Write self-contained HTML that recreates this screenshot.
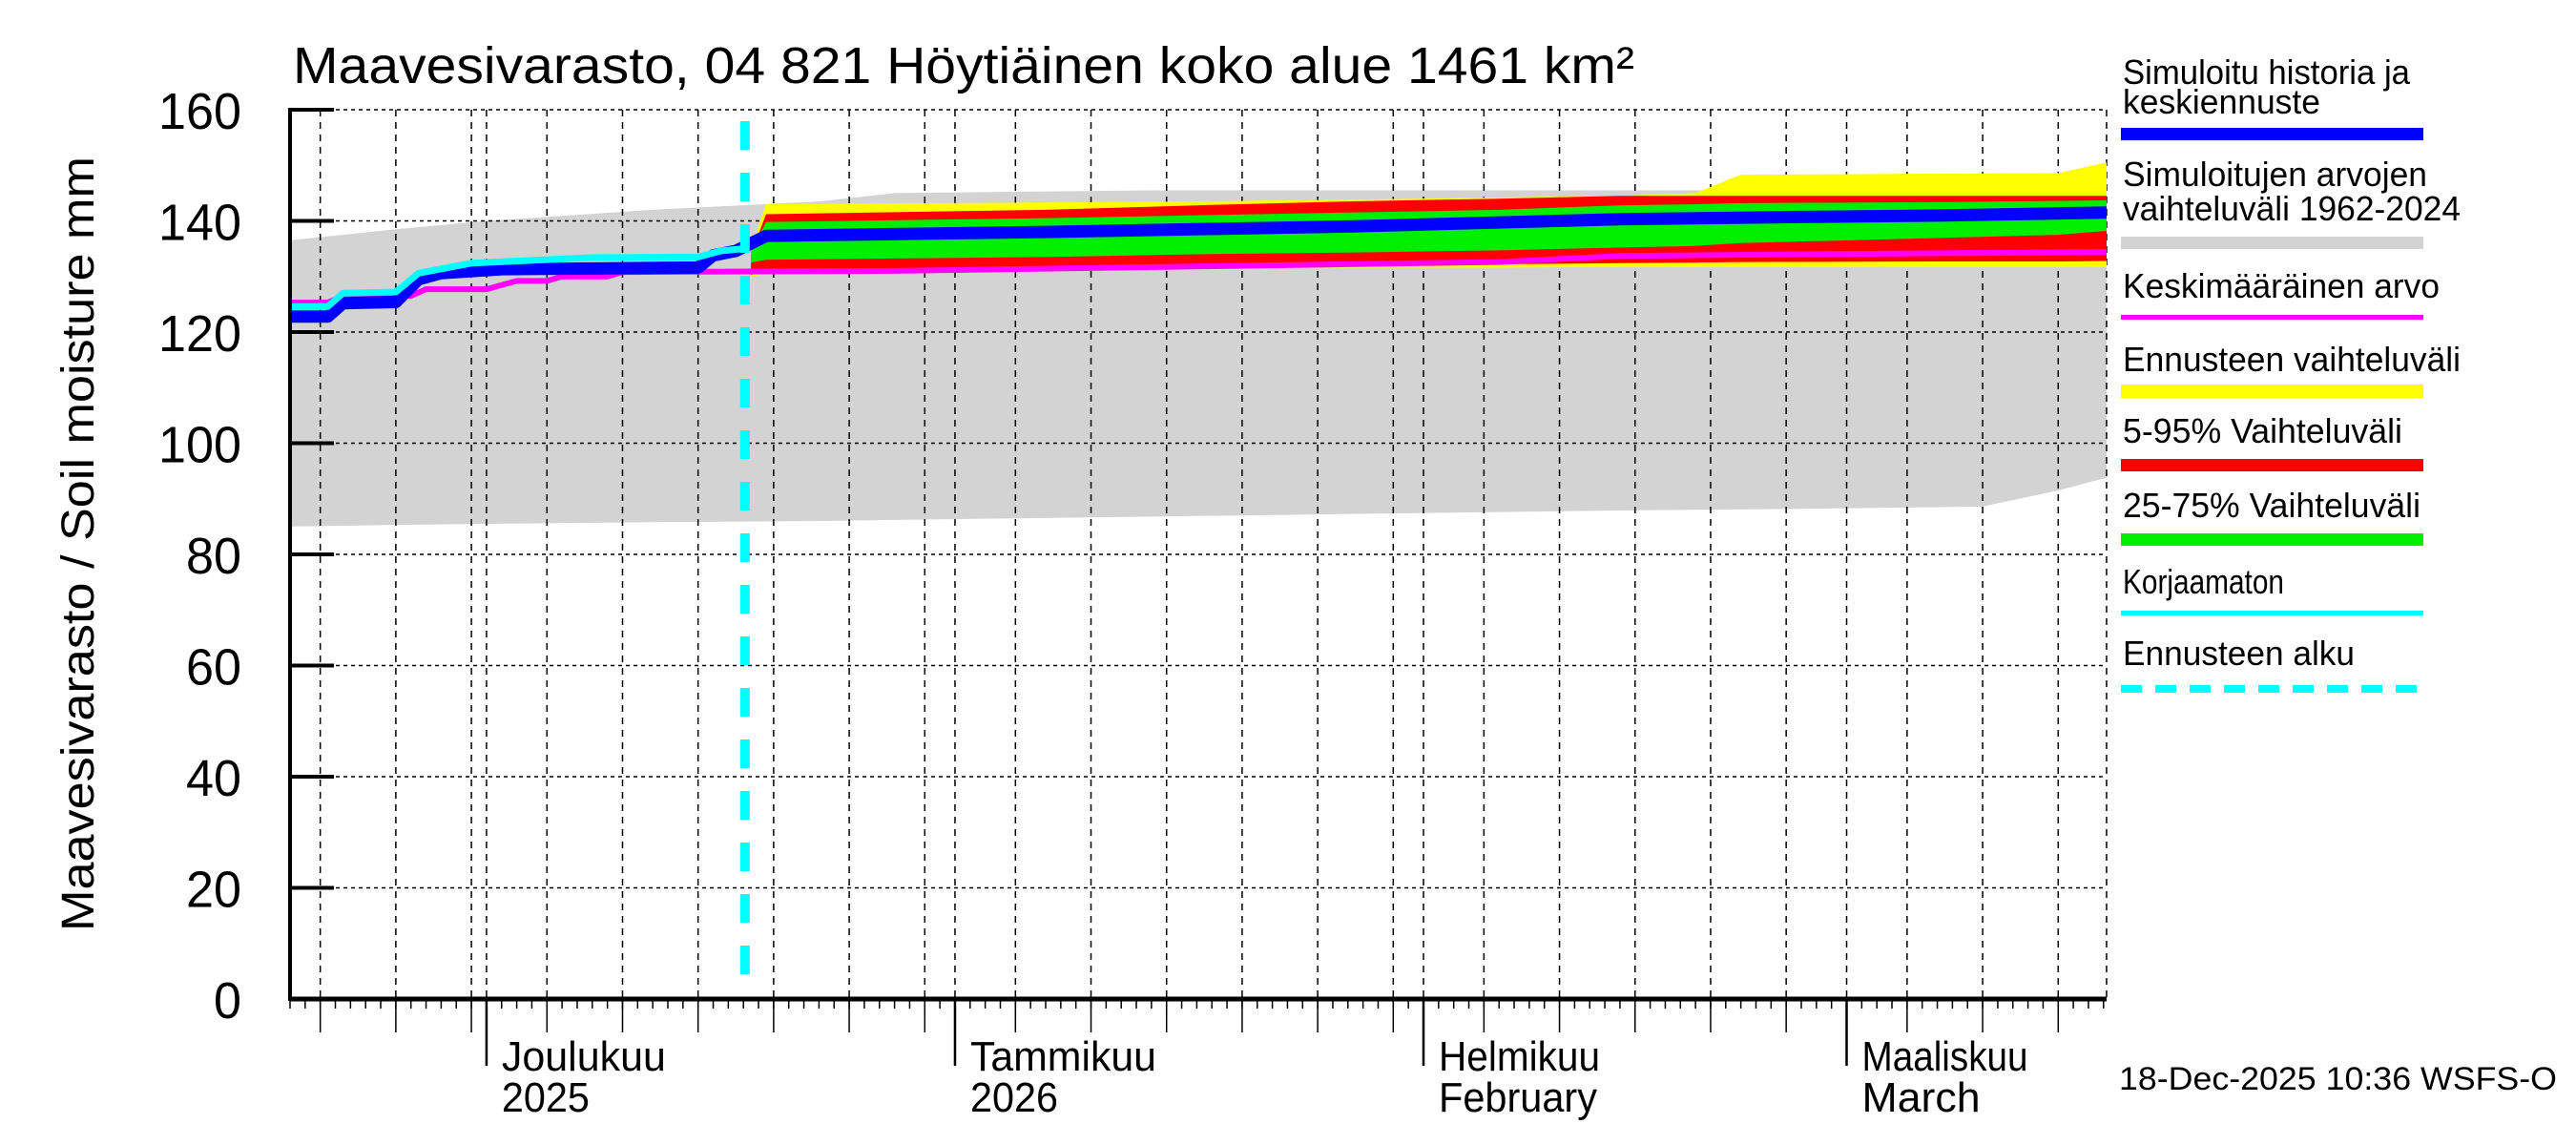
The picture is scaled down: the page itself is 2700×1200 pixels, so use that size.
<!DOCTYPE html>
<html><head><meta charset="utf-8"><style>
html,body{margin:0;padding:0;background:#fff}
svg{display:block}
text{font-family:"Liberation Sans",sans-serif;fill:#000}
</style></head><body>
<svg id="chart" width="2700" height="1200" viewBox="0 0 2700 1200" xmlns="http://www.w3.org/2000/svg">
<rect width="2700" height="1200" fill="#fff"/>
<g id="plot"></g>
<g id="axes"></g>
<text x="307" y="87" font-size="54" textLength="1406" lengthAdjust="spacingAndGlyphs">Maavesivarasto, 04 821 Höytiäinen koko alue 1461 km²</text>
<text transform="translate(98,570) rotate(-90)" text-anchor="middle" font-size="48" textLength="812" lengthAdjust="spacingAndGlyphs">Maavesivarasto / Soil moisture   mm</text>
<g id="legend">
<text x="2225" y="88" font-size="36" textLength="301" lengthAdjust="spacingAndGlyphs">Simuloitu historia ja</text>
<text x="2225" y="119" font-size="36" textLength="207" lengthAdjust="spacingAndGlyphs">keskiennuste</text>
<rect x="2223" y="134" width="317" height="13" fill="#0000ff"/>
<text x="2225" y="195" font-size="36" textLength="319" lengthAdjust="spacingAndGlyphs">Simuloitujen arvojen</text>
<text x="2225" y="231" font-size="36" textLength="354" lengthAdjust="spacingAndGlyphs">vaihteluväli 1962-2024</text>
<rect x="2223" y="248" width="317" height="13" fill="#d3d3d3"/>
<text x="2225" y="312" font-size="36" textLength="332" lengthAdjust="spacingAndGlyphs">Keskimääräinen arvo</text>
<rect x="2223" y="330" width="317" height="5" fill="#ff00ff"/>
<text x="2225" y="389" font-size="36" textLength="354" lengthAdjust="spacingAndGlyphs">Ennusteen vaihteluväli</text>
<rect x="2223" y="403" width="317" height="14" fill="#ffff00"/>
<text x="2225" y="464" font-size="36" textLength="293" lengthAdjust="spacingAndGlyphs">5-95% Vaihteluväli</text>
<rect x="2223" y="481" width="317" height="13" fill="#ff0000"/>
<text x="2225" y="542" font-size="36" textLength="312" lengthAdjust="spacingAndGlyphs">25-75% Vaihteluväli</text>
<rect x="2223" y="559" width="317" height="13" fill="#00ee00"/>
<text x="2225" y="622" font-size="36" textLength="169" lengthAdjust="spacingAndGlyphs">Korjaamaton</text>
<rect x="2223" y="640" width="317" height="5" fill="#00ffff"/>
<text x="2225" y="697" font-size="36" textLength="243" lengthAdjust="spacingAndGlyphs">Ennusteen alku</text>
<line x1="2223" y1="722" x2="2540" y2="722" stroke="#00ffff" stroke-width="8" stroke-dasharray="22,14"/>
</g>
<text x="2680" y="1142" text-anchor="end" font-size="34" textLength="459" lengthAdjust="spacingAndGlyphs">18-Dec-2025 10:36 WSFS-O</text>
</svg>
<script>
// ---- data (day index 0 = 18 Nov 2025) ----
const yTicks = [0, 20, 40, 60, 80, 100, 120, 140, 160];
const monthDays = [13, 44, 75, 103];
const monthLabels1 = ["Joulukuu", "Tammikuu", "Helmikuu", "Maaliskuu"];
const monthLabels2 = ["2025", "2026", "February", "March"];
const gridDays = [2, 7, 12, 17, 22, 27, 32, 37, 42, 48, 53, 58, 63, 68, 73, 79, 84, 89, 94, 99, 107, 112, 117];
const forecastStartDay = 30.1;

const grayDays   = [0, 7, 13, 24, 35, 40, 57, 88, 100, 112, 117, 120.2];
const grayTop    = [136.5, 138.5, 140, 142, 143.5, 145, 145.5, 145.5, 145.5, 145.5, 145.5, 145.5];
const grayBottom = [85, 85.3, 85.5, 85.8, 86, 86.2, 86.8, 87.9, 88.2, 88.6, 91.5, 93.8];

const fcDays      = [30.5, 31.5, 50, 60, 70, 80, 88, 93, 96, 110, 117, 120.2];
const yellowTop   = [135, 143, 143.3, 143.5, 143.8, 144.2, 144.5, 145, 148.3, 148.5, 148.6, 150.5];
const yellowBot   = [130, 130.5, 131, 131.5, 131.6, 131.6, 131.7, 131.7, 131.7, 131.7, 131.7, 131.7];
const redTop      = [134, 141.2, 142, 142.8, 143.5, 144, 144.5, 144.5, 144.5, 144.5, 144.5, 144.5];
const redBot      = [130.3, 130.8, 131.3, 131.8, 132, 132.2, 132.4, 132.5, 132.6, 132.7, 132.7, 132.8];
const greenTop    = [134.5, 139.8, 140.5, 141, 141.5, 142, 142.8, 143, 143.2, 143.4, 143.6, 143.7];
const greenBot    = [132.5, 133, 133.5, 134, 134.3, 134.7, 135.2, 135.5, 136, 137, 137.5, 138.2];

const blueDays = [0, 2.5, 3.5, 7, 8.5, 10, 14, 27, 28, 29.5, 31.5, 50, 70, 88, 100, 110, 120.2];
const blueVals = [122.8, 122.8, 125.2, 125.4, 129.5, 130.6, 131.3, 131.6, 133.8, 134.6, 137.3, 138, 139, 140.3, 140.7, 141, 141.5];
const cyanDays = [0, 2.5, 3.5, 7, 8.5, 12, 20, 27, 28.5, 30];
const cyanVals = [124.6, 124.6, 127, 127.2, 130.6, 132.4, 133.4, 133.5, 134.6, 135];
const magDays  = [0, 2.5, 3.5, 8, 9, 13, 15, 17, 18, 21, 22, 40, 60, 80, 88, 100, 120.2];
const magVals  = [125.3, 125.3, 126.5, 126.5, 127.7, 127.7, 129.2, 129.2, 130, 130, 130.8, 131, 131.8, 132.6, 133.7, 134, 134.4];

// ---- scales ----
const X0 = 304, PXD = 15.84, Y0 = 1047, PXU = 5.825, XR = 2208;
const xs = d => X0 + d * PXD;
const ys = v => Y0 - v * PXU;
const NS = "http://www.w3.org/2000/svg";
const plot = document.getElementById("plot");
const axes = document.getElementById("axes");
function mk(tag, attrs, parent) {
  const e = document.createElementNS(NS, tag);
  for (const k in attrs) e.setAttribute(k, attrs[k]);
  parent.appendChild(e);
  return e;
}
function band(days, top, bot, color, name) {
  const pts = [];
  for (let i = 0; i < days.length; i++) pts.push(xs(days[i]) + "," + ys(top[i]));
  for (let i = days.length - 1; i >= 0; i--) pts.push(xs(days[i]) + "," + ys(bot[i]));
  const p = mk("polygon", {points: pts.join(" "), fill: color}, plot);
  
  
}
function line(days, vals, color, w, name) {
  const pts = days.map((d, i) => xs(d) + "," + ys(vals[i])).join(" ");
  const p = mk("polyline", {points: pts, fill: "none", stroke: color, "stroke-width": w, "stroke-linejoin": "round"}, plot);
  
  
}

band(grayDays, grayTop, grayBottom, "#d3d3d3", "historical-range-band");

// grid
yTicks.forEach(v => {
  if (v === 0) return;
  const g = mk("line", {x1: X0, x2: XR, y1: ys(v), y2: ys(v), stroke: "#000", "stroke-width": 1.5, "stroke-dasharray": "4,4"}, plot);
  
  
});
gridDays.concat(monthDays).concat([120.2]).forEach(d => {
  const g = mk("line", {x1: xs(d), x2: xs(d), y1: ys(160), y2: Y0, stroke: "#000", "stroke-width": 1.5, "stroke-dasharray": "7,6"}, plot);
  
  
});

band(fcDays, yellowTop, yellowBot, "#ffff00", "forecast-range-band");
band(fcDays, redTop, redBot, "#ff0000", "band-5-95");
band(fcDays, greenTop, greenBot, "#00ee00", "band-25-75");
line(magDays, magVals, "#ff00ff", 6, "mean-line");
line(blueDays, blueVals, "#0000ff", 13, "simulated-median-line");
line(cyanDays, cyanVals, "#00ffff", 7, "uncorrected-line");

const fs = mk("line", {x1: xs(forecastStartDay), x2: xs(forecastStartDay), y1: ys(160) + 12, y2: Y0, stroke: "#00ffff", "stroke-width": 10, "stroke-dasharray": "30,24"}, plot);



// axes
const la = mk("line", {x1: X0, x2: X0, y1: ys(160) - 2, y2: Y0 + 2, stroke: "#000", "stroke-width": 4}, axes);


const ba = mk("line", {x1: X0, x2: XR, y1: Y0, y2: Y0, stroke: "#000", "stroke-width": 5}, axes);


yTicks.forEach(v => {
  const t = mk("line", {x1: X0, x2: X0 + 46, y1: ys(v), y2: ys(v), stroke: "#000", "stroke-width": 4}, axes);
  
  
  const lb = mk("text", {x: 253, y: ys(v) + 20, "text-anchor": "end", "font-size": 54, textLength: String(v).length * 29, lengthAdjust: "spacingAndGlyphs"}, axes);
  lb.textContent = String(v);
  
  
});
for (let d = 0; d <= 120; d++) {
  const t = mk("line", {x1: xs(d), x2: xs(d), y1: Y0, y2: Y0 + 10, stroke: "#000", "stroke-width": 1.5}, axes);
  
  
}
gridDays.forEach(d => {
  const t = mk("line", {x1: xs(d), x2: xs(d), y1: Y0, y2: Y0 + 35, stroke: "#000", "stroke-width": 1.5}, axes);
  
  
});
const l1w = [172, 195, 169, 174], l2w = [92, 92, 166, 124];
monthDays.forEach((d, i) => {
  const t = mk("line", {x1: xs(d), x2: xs(d), y1: Y0, y2: Y0 + 70, stroke: "#000", "stroke-width": 2.5}, axes);
  
  
  const a = mk("text", {x: xs(d) + 16, y: 1122, "font-size": 44, textLength: l1w[i], lengthAdjust: "spacingAndGlyphs"}, axes);
  a.textContent = monthLabels1[i];
  
  
  const b = mk("text", {x: xs(d) + 16, y: 1165, "font-size": 44, textLength: l2w[i], lengthAdjust: "spacingAndGlyphs"}, axes);
  b.textContent = monthLabels2[i];
  
  
});
</script>
</body></html>
